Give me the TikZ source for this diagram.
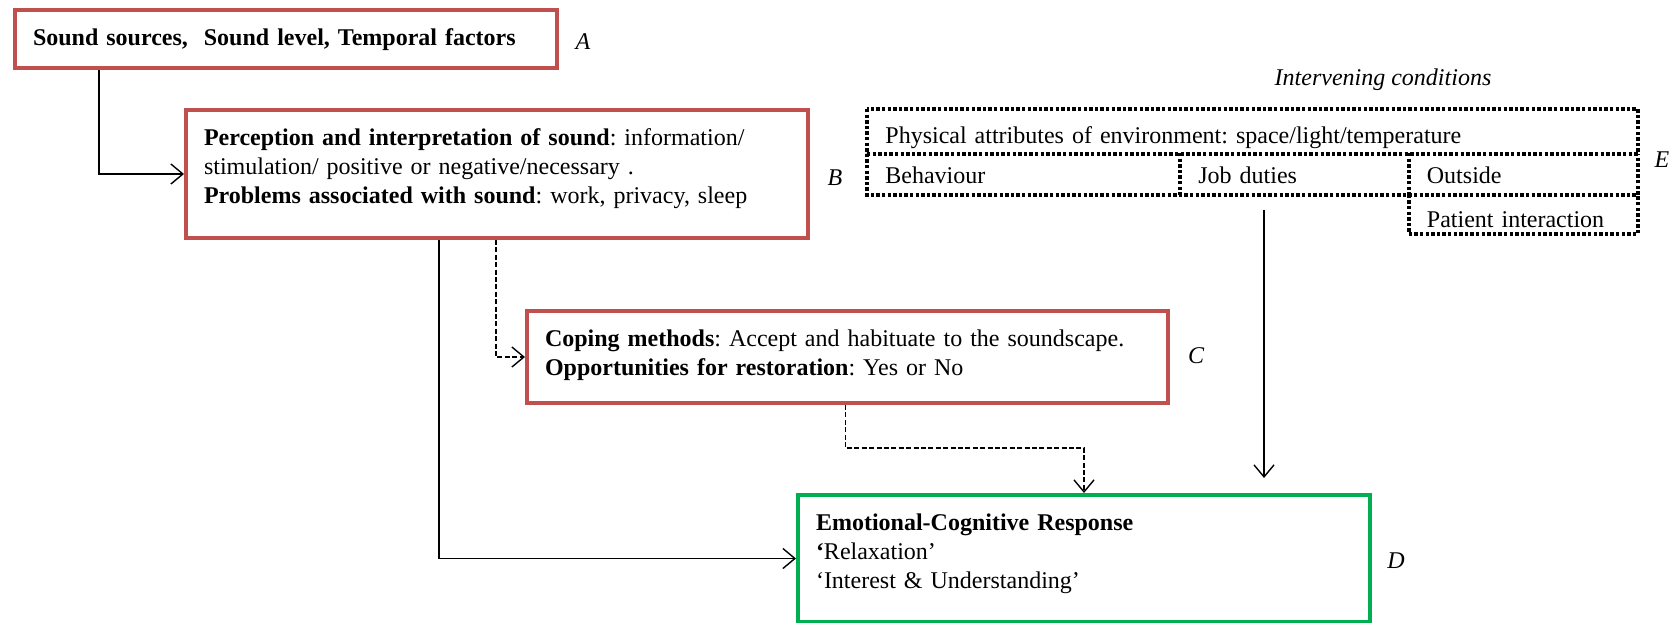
\documentclass[tikz,border=0pt]{standalone}
\usepackage{fontspec}
\setmainfont{Liberation Serif}
\usetikzlibrary{arrows.meta}
\definecolor{boxred}{HTML}{C0504D}
\definecolor{boxgreen}{HTML}{00B050}
\frenchspacing
\begin{document}
\begin{tikzpicture}[x=0.5pt,y=-0.5pt,
  font=\fontsize{12}{14.5}\selectfont,
  box/.style={draw=boxred, line width=2pt, anchor=north west, align=left,
    inner xsep=9pt, inner ysep=0pt, text height=17.5pt},
  resp/.style={box, draw=boxgreen},
  cell/.style={anchor=north west, align=left, inner xsep=9pt, inner ysep=0pt},
  dots/.style={draw=black, line width=2pt, dash pattern=on 1.7pt off 1.1pt},
  tag/.style={font=\fontsize{12}{14.5}\selectfont\itshape},
  conn/.style={line width=0.7pt, -{Straight Barb[length=6pt,width=10pt]}},
  dconn/.style={conn, dash pattern=on 2.5pt off 1.2pt},
]
\fill[white] (0,0) rectangle (1677,622);
\useasboundingbox (0,0) rectangle (1677,622);

% main chain of boxes
\node[box, text width=253pt, text depth=11.5pt] (A) at (13,8)
  {\textbf{Sound sources,~ Sound level, Temporal factors}};
\node[box, text width=293pt, text depth=46.5pt] (B) at (184,108)
  {\textbf{Perception and interpretation of sound}: information/\\
   stimulation/ positive or negative/necessary .\\
   \textbf{Problems associated with sound}: work, privacy, sleep};
\node[box, text width=302.5pt, text depth=28.5pt] (C) at (525,309)
  {\textbf{Coping methods}: Accept and habituate to the soundscape.\\
   \textbf{Opportunities for restoration}: Yes or No};
\node[resp, text width=268pt, text depth=46pt] (D) at (796,493)
  {\textbf{Emotional-Cognitive Response}\\
   \textbf{‘}Relaxation’\\
   ‘Interest \& Understanding’};

% intervening conditions: cells, then their dotted borders (shared edges drawn once)
\node[tag] (ic) at (1383,80) {Intervening conditions};
\node[cell, text width=367pt, text height=17pt, text depth=5pt] (phys) at (867,109)
  {Physical attributes of environment: space/light/temperature};
\node[cell, text width=138.5pt, text height=15pt, text depth=5.5pt] (beh) at (867,153) {Behaviour};
\node[cell, text width=96.25pt, text height=15pt, text depth=5.5pt] (job) at (1180,153) {Job duties};
\node[cell, text width=96.25pt, text height=15pt, text depth=5.5pt] (out) at (1408.5,153) {Outside};
\node[cell, text width=96.25pt, text height=16.5pt, text depth=3pt] (pat) at (1408.5,194) {Patient interaction};

\draw[dots] (phys.north west) rectangle (phys.south east);
\draw[dots] (phys.south west) -- (beh.south west) -- (out.south east) -- (phys.south east);
\draw[dots] (job.north west) -- (job.south west);
\draw[dots] (out.north west) -- (out.south west);
\draw[dots] (out.south west) -- (pat.south west) -- (pat.south east) -- (out.south east);

% letters
\node[tag] (la) at (583,42) {A};
\node[tag] (lb) at (835,178) {B};
\node[tag] (lc) at (1196,356) {C};
\node[tag] (ld) at (1396,561) {D};
\node[tag] (le) at (1662,160) {E};

% connectors
\coordinate (ab) at (99,0);
\coordinate (bd) at (439,0);
\coordinate (bc) at (496,0);
\coordinate (cd) at (845.5,448);
\coordinate (ed) at (1264,0);

\draw[conn] (A.south -| ab) |- (B.west);
\draw[conn] (B.south -| bd) |- (D.west);
\draw[dconn] (B.south -| bc) |- (C.west);
\draw[dconn] (C.south -| cd) -- (cd) -| (D.north);
\draw[conn, shorten <=7.5pt, shorten >=7.5pt] (job.south -| ed) -- (D.north -| ed);
\end{tikzpicture}
\end{document}
